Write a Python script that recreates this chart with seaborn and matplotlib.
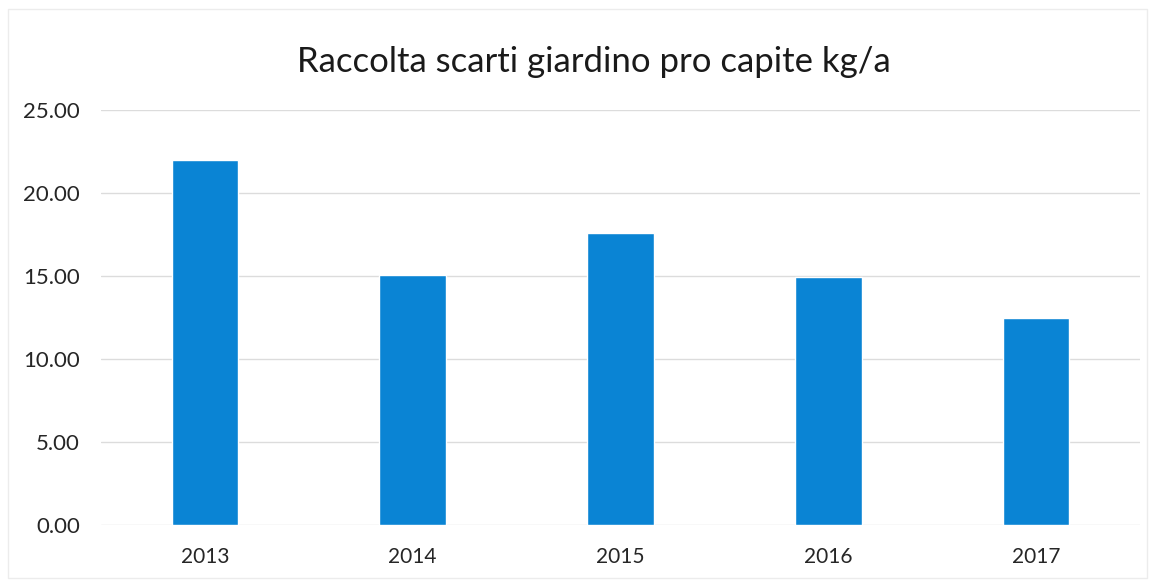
import matplotlib
matplotlib.use("Agg")
import matplotlib.pyplot as plt
import seaborn as sns
import pandas as pd
from matplotlib.patches import Rectangle

years = ["2013", "2014", "2015", "2016", "2017"]
values = [22.0, 15.05, 17.6, 14.92, 12.48]
title = "Raccolta scarti giardino pro capite kg/a"
yticks = [0, 5, 10, 15, 20, 25]

sns.set_theme(style="white")
plt.rcParams['font.family'] = ['Lato', 'DejaVu Sans']

df = pd.DataFrame({"year": years, "value": values})

fig = plt.figure(figsize=(11.55, 5.81), dpi=100)
ax = fig.add_axes([0.0874, 0.0964, 0.8996, 0.7143])

sns.barplot(data=df, x="year", y="value", color="#0a84d4", saturation=1,
            width=0.32, ax=ax, zorder=3)

ax.set_xlim(-0.5, len(years) - 0.5)
ax.set_ylim(0, 25)
ax.set_yticks(yticks)
ax.set_yticklabels([f"{v:.2f}" for v in yticks], fontsize=16, color="#262626")
ax.tick_params(axis="x", labelsize=15, labelcolor="#262626", length=0, pad=16)
ax.tick_params(axis="y", length=0, pad=15)
ax.grid(axis="y", color="#dcdcdc", linewidth=1, zorder=0)
ax.set_xlabel("")
ax.set_ylabel("")
for s in ax.spines.values():
    s.set_visible(False)

fig.text(0.514, 0.893, title, ha="center", va="center", fontsize=25, color="#1a1a1a")

fig.patches.append(Rectangle((0.007, 0.005), 0.986, 0.98, transform=fig.transFigure,
                             fill=False, edgecolor="#ececec", linewidth=1))

fig.savefig("out.png", dpi=100)
